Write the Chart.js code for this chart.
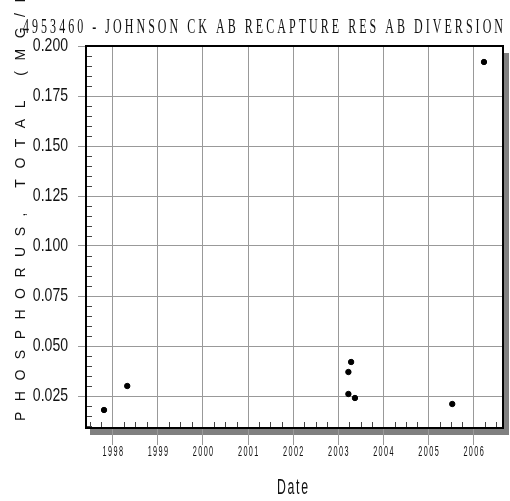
<!DOCTYPE html>
<html>
<head>
<meta charset="utf-8">
<script src="https://cdn.jsdelivr.net/npm/chart.js@4.4.0/dist/chart.umd.min.js"></script>
<style>
  html, body { margin: 0; padding: 0; background: #fff; }
  #wrap { width: 510px; height: 501px; position: relative; }
</style>
</head>
<body>
<div id="wrap"><canvas id="myChart"></canvas></div>
<script>
const title = '4953460 - JOHNSON CK AB RECAPTURE RES AB DIVERSION'
const yTitle = 'PHOSPHORUS, TOTAL (MG/L)'
const xTitle = 'Date'

// samples
const sampleDates = ['1997-10-22', '1998-04-28', '2003-03-24', '2003-04-15', '2003-03-24', '2003-05-16', '2005-07-12', '2006-03-26']
const phosphorus = [0.018, 0.030, 0.037, 0.042, 0.026, 0.024, 0.021, 0.192]

const years = [1998, 1999, 2000, 2001, 2002, 2003, 2004, 2005, 2006]
const yTicks = [0.025, 0.050, 0.075, 0.100, 0.125, 0.150, 0.175, 0.200]
const yRange = [0.009, 0.200]
const dateRange = ['1997-05-29', '2006-08-27']

const SANS = '"Liberation Sans", Arial, sans-serif'

const yearMs = y => Date.UTC(y, 0, 1)

// draw text char by char, squeezed by scaleX, with extra spacing
function spaced(ctx, text, x, y, spacing, scaleX) {
  let cx = x
  for (const ch of text) {
    const w = ctx.measureText(ch).width * scaleX
    ctx.save()
    ctx.translate(cx, y)
    ctx.scale(scaleX, 1)
    ctx.fillText(ch, 0, 0)
    ctx.restore()
    cx += w + spacing
  }
}

function textWidth(ctx, text, spacing, scaleX) {
  let total = 0
  for (const ch of text) total += ctx.measureText(ch).width * scaleX
  return total + spacing * (text.length - 1)
}

function fitted(ctx, text, x0, x1, y, scaleX) {
  const spacing = (x1 - x0 - textWidth(ctx, text, 0, scaleX)) / (text.length - 1)
  spaced(ctx, text, x0, y, spacing, scaleX)
}

const frame = {
  id: 'frame',
  beforeDraw(chart) {
    const { ctx, chartArea: a } = chart
    ctx.save()
    ctx.fillStyle = '#808080'
    ctx.fillRect(a.left + 4, a.top + 7, a.right - a.left + 2, a.bottom - a.top)
    ctx.fillStyle = '#fff'
    ctx.fillRect(a.left, a.top, a.right - a.left, a.bottom - a.top)
    ctx.restore()
  },
  beforeDatasetsDraw(chart) {
    const { ctx, chartArea: a, scales } = chart
    ctx.save()
    ctx.strokeStyle = '#444'
    ctx.lineWidth = 1
    ctx.beginPath()
    // minor y ticks every 0.005
    for (let i = 2; i < 40; i++) {
      if (i % 5 === 0) continue
      const py = Math.round(scales.y.getPixelForValue(i * 0.005)) + 0.5
      if (py > a.bottom - 1) continue
      ctx.moveTo(a.left, py)
      ctx.lineTo(a.left + 6, py)
    }
    // minor x ticks, quarterly
    for (let y = 1997; y <= 2006; y++) {
      for (const m of [3, 6, 9]) {
        const px = Math.round(scales.x.getPixelForValue(Date.UTC(y, m, 1))) + 0.5
        if (px <= a.left || px >= a.right) continue
        ctx.moveTo(px, a.bottom)
        ctx.lineTo(px, a.bottom - 6)
      }
    }
    ctx.stroke()
    ctx.restore()
  },
  afterDraw(chart) {
    const { ctx, chartArea: a, scales } = chart
    ctx.save()
    ctx.strokeStyle = '#000'
    ctx.lineWidth = 2
    ctx.strokeRect(a.left, a.top, a.right - a.left, a.bottom - a.top)

    ctx.fillStyle = '#111'

    // tick labels, squeezed like the original
    ctx.textBaseline = 'middle'
    ctx.font = '18px ' + SANS
    scales.y.ticks.forEach(t => {
      const label = t.value.toFixed(3)
      const py = scales.y.getPixelForValue(t.value)
      const w = textWidth(ctx, label, 0, 0.78)
      spaced(ctx, label, 68 - w, py, 0, 0.78)
    })
    ctx.font = '14px ' + SANS
    scales.x.ticks.forEach(t => {
      const label = String(new Date(t.value).getUTCFullYear())
      const px = scales.x.getPixelForValue(t.value)
      const w = textWidth(ctx, label, 1.4, 0.52)
      spaced(ctx, label, px - w / 2, a.bottom + 24, 1.4, 0.52)
    })

    ctx.textBaseline = 'alphabetic'
    ctx.font = '20px "Liberation Serif", serif'
    fitted(ctx, title, 23, 503, 33, 0.6)

    ctx.font = '22px ' + SANS
    fitted(ctx, xTitle, 277, 308, 494, 0.56)

    ctx.font = '14px ' + SANS
    ctx.translate(25, 421)
    ctx.rotate(-Math.PI / 2)
    spaced(ctx, yTitle, 0, 0, 10.5, 1)
    ctx.restore()
  }
}

const ctx = document.getElementById('myChart')

new Chart(ctx, {
  type: 'scatter',
  data: {
    datasets: [{
      data: sampleDates.map((d, i) => ({ x: Date.parse(d), y: phosphorus[i] })),
      backgroundColor: '#000',
      borderColor: '#000',
      pointRadius: 2.7,
      pointHoverRadius: 2.7
    }]
  },
  options: {
    responsive: true,
    maintainAspectRatio: false,
    animation: false,
    events: [],
    layout: { padding: { top: 46, right: 7, left: 0, bottom: 0 } },
    plugins: {
      legend: { display: false },
      title: { display: false },
      tooltip: { enabled: false }
    },
    scales: {
      x: {
        type: 'linear',
        min: Date.parse(dateRange[0]),
        max: Date.parse(dateRange[1]),
        afterBuildTicks: scale => { scale.ticks = years.map(y => ({ value: yearMs(y) })) },
        afterFit: scale => { scale.height = 73 },
        border: { display: false },
        grid: { color: '#999', lineWidth: 1, tickLength: 17, drawTicks: true },
        ticks: { display: false, autoSkip: false }
      },
      y: {
        min: yRange[0],
        max: yRange[1],
        afterBuildTicks: scale => { scale.ticks = yTicks.map(v => ({ value: v })) },
        afterFit: scale => { scale.width = 86 },
        border: { display: false },
        grid: { color: '#999', lineWidth: 1, tickLength: 8, drawTicks: true },
        ticks: { display: false, autoSkip: false }
      }
    }
  },
  plugins: [frame]
})
</script>
</body>
</html>
